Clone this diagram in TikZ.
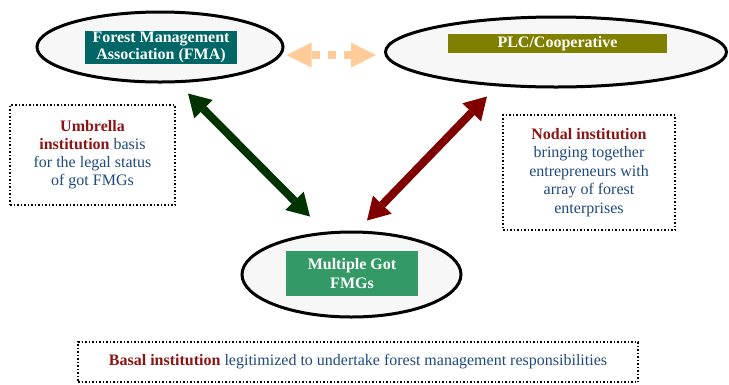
\documentclass[tikz,border=0pt]{standalone}
\usepackage{fontspec}
\setmainfont{Liberation Serif}
\usetikzlibrary{shapes.geometric,arrows.meta,calc,positioning}
\definecolor{ovalgray}{RGB}{247,247,247}
\definecolor{fmateal}{RGB}{0,102,102}
\definecolor{plcolive}{RGB}{128,128,0}
\definecolor{fmggreen}{RGB}{51,153,102}
\definecolor{darkgreen}{RGB}{0,51,0}
\definecolor{darkred}{RGB}{128,0,0}
\definecolor{peach}{RGB}{255,204,153}
\definecolor{notered}{RGB}{140,20,20}
\definecolor{noteblue}{RGB}{31,73,125}

\begin{document}
\begin{tikzpicture}[x=1pt,y=1pt,
every node/.style={font=\fontsize{16}{18}\selectfont},
oval/.style={ellipse,draw,line width=3pt,fill=ovalgray,inner sep=0pt},
tag/.style={rectangle,fill=#1,text=white,font=\fontsize{16}{17.5}\selectfont\bfseries,align=center,inner sep=0pt},
note/.style={rectangle,draw,line width=1.5pt,dash pattern=on 1.5pt off 2pt,align=center,inner sep=0pt,text=noteblue},
link/.style={draw=#1,line width=8pt,{Triangle[width=26pt,length=22pt,line width=0pt]}-{Triangle[width=26pt,length=22pt,line width=0pt]}},
dotlink/.style={draw=#1,line width=8pt,dash pattern=on 8pt off 8pt,{Triangle[width=25pt,length=25pt,line width=0pt]}-{Triangle[width=25pt,length=25pt,line width=0pt]}}]
\useasboundingbox (0,0) rectangle (729,-384);
% the three institutions
\node[oval,minimum width=246pt,minimum height=70pt] (fma) at (160,-47) {};
\node[tag=fmateal,minimum width=152pt,minimum height=33pt] (fmatag) at ($(fma.center)+(1,-0.5)$) {Forest Management\\Association (FMA)};
\node[oval,minimum width=341pt,minimum height=70pt] (plc) at (556,-52) {};
\node[tag=plcolive,minimum width=219pt,minimum height=19pt] (plctag) at ($(plc.center)+(1.5,8.5)$) {PLC/Cooperative};
\node[oval,minimum width=219pt,minimum height=85pt] (fmg) at (351.5,-274.5) {};
\node[tag=fmggreen,minimum width=132pt,minimum height=45pt,font=\fontsize{16}{19}\selectfont\bfseries] (fmgtag) at ($(fmg.center)+(0.5,1)$) {Multiple Got\\FMGs};
% notes
\node[note,minimum width=165pt,minimum height=100pt] (umbrella) at (92.5,-155) {\textcolor{notered}{\bfseries Umbrella}\\\textcolor{notered}{\bfseries institution} basis\\for the legal status\\of got FMGs};
\node[note,minimum width=172pt,minimum height=115pt,font=\fontsize{16}{18.6}\selectfont] (nodal) at (589,-172.5) {\textcolor{notered}{\bfseries Nodal institution}\\bringing together\\entrepreneurs with\\array of forest\\enterprises};
\node[note,minimum width=560pt,minimum height=40pt] (basal) at (358,-362) {\textcolor{notered}{\bfseries Basal institution} legitimized to undertake forest management responsibilities};
% links
\draw[link=darkgreen] ($(fma.south)+(28,-10)$) -- ($(fmg.north)+(-41.5,14)$);
\draw[link=darkred] ($(plc.south)+(-69,-8)$) -- ($(fmg.north)+(15.5,10)$);
\draw[dotlink=peach] ($(fma.east)+(2,-8)$) -- ($(plc.west)+(-8,-3)$);
\end{tikzpicture}
\end{document}
